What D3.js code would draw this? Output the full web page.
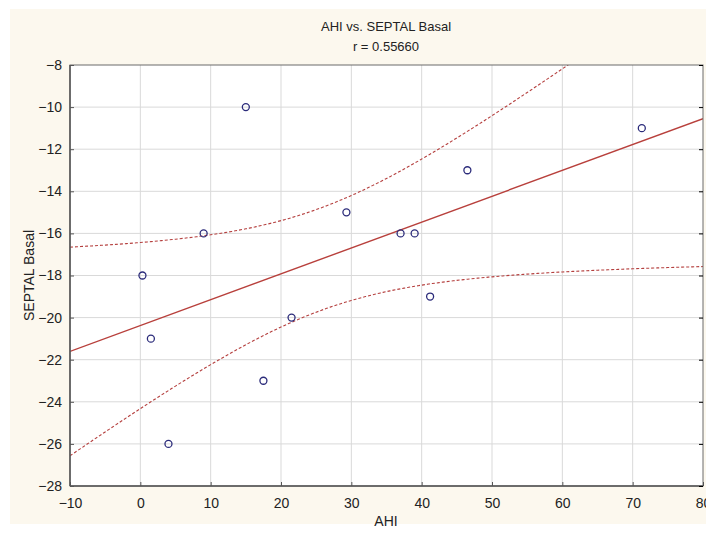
<!DOCTYPE html>
<html><head><meta charset="utf-8">
<script src="https://cdn.jsdelivr.net/npm/d3@7"></script>
<style>body{margin:0;background:#fff;}svg{display:block;font-family:"Liberation Sans",Arial,sans-serif;}</style>
</head><body>
<script>
const ahi = [0.3, 1.5, 4, 9, 15, 17.5, 21.5, 29.3, 37, 39, 41.2, 46.5, 71.3];
const septal = [-18, -21, -26, -16, -10, -23, -20, -15, -16, -16, -19, -13, -11];
const xTicks = [-10, 0, 10, 20, 30, 40, 50, 60, 70, 80];
const yTicks = [-8, -10, -12, -14, -16, -18, -20, -22, -24, -26, -28];
const title = "AHI vs. SEPTAL Basal";
const subtitle = "r = 0.55660";
const xLabel = "AHI", yLabel = "SEPTAL Basal";
const tCrit = 2.201; // t(0.975, df=11)

const W = 706, H = 534;
const L = 70, R = 703, T = 65, B = 486;
const svg = d3.select("body").append("svg").attr("width", W).attr("height", H);
svg.append("rect").attr("x", 10).attr("y", 9).attr("width", W - 10).attr("height", 515).attr("fill", "#fcf8ee");

const x = d3.scaleLinear().domain([-10, 80]).range([L, R]);
const y = d3.scaleLinear().domain([-28, -8]).range([B, T]);

svg.append("rect").attr("x", L).attr("y", T).attr("width", R - L).attr("height", B - T).attr("fill", "#fff");

// grid
const g = svg.append("g");
g.selectAll(".vg").data(xTicks.slice(1, -1)).join("line")
  .attr("x1", d => x(d)).attr("x2", d => x(d)).attr("y1", T).attr("y2", B)
  .attr("stroke", "#d9d9d9").attr("stroke-width", 1);
g.selectAll(".hg").data(yTicks.slice(1, -1)).join("line")
  .attr("y1", d => y(d)).attr("y2", d => y(d)).attr("x1", L).attr("x2", R)
  .attr("stroke", "#d9d9d9").attr("stroke-width", 1);

// regression with 95% confidence band
const n = ahi.length;
const mx = d3.mean(ahi), my = d3.mean(septal);
let sxx = 0, sxy = 0, syy = 0;
for (let i = 0; i < n; i++) { const dx = ahi[i] - mx, dy = septal[i] - my; sxx += dx*dx; sxy += dx*dy; syy += dy*dy; }
const slope = sxy / sxx, icpt = my - slope * mx;
const s = Math.sqrt((syy - slope * sxy) / (n - 2));
const xs = d3.range(-10, 80.01, 0.5);
const fit = v => icpt + slope * v;
const hw = v => tCrit * s * Math.sqrt(1 / n + (v - mx) * (v - mx) / sxx);

svg.append("clipPath").attr("id", "pc").append("rect").attr("x", L).attr("y", T).attr("width", R - L).attr("height", B - T);
const plot = svg.append("g").attr("clip-path", "url(#pc)");
const line = d3.line().x(d => x(d[0])).y(d => y(d[1]));
plot.append("path").attr("d", line(xs.map(v => [v, fit(v) + hw(v)]))).attr("fill", "none")
  .attr("stroke", "#b5403f").attr("stroke-width", 1.1).attr("stroke-dasharray", "3,2");
plot.append("path").attr("d", line(xs.map(v => [v, fit(v) - hw(v)]))).attr("fill", "none")
  .attr("stroke", "#b5403f").attr("stroke-width", 1.1).attr("stroke-dasharray", "3,2");
plot.append("path").attr("d", line([[-10, fit(-10)], [80, fit(80)]])).attr("fill", "none")
  .attr("stroke", "#b8403c").attr("stroke-width", 1.4);

// points
plot.selectAll("circle").data(ahi.map((v, i) => [v, septal[i]])).join("circle")
  .attr("cx", d => x(d[0])).attr("cy", d => y(d[1])).attr("r", 3.5)
  .attr("fill", "none").attr("stroke", "#2b2b7a").attr("stroke-width", 1.3);

// frame
svg.append("rect").attr("x", L).attr("y", T).attr("width", R - L).attr("height", B - T)
  .attr("fill", "none").attr("stroke", "#6a6a6a").attr("stroke-width", 1);
svg.append("line").attr("x1", L).attr("x2", L).attr("y1", T).attr("y2", B).attr("stroke", "#555").attr("stroke-width", 1.5);
svg.append("line").attr("x1", L).attr("x2", R).attr("y1", B).attr("y2", B).attr("stroke", "#555").attr("stroke-width", 1.5);

// axes
const xa = svg.append("g").attr("transform", `translate(0,${B})`)
  .call(d3.axisBottom(x).tickValues(xTicks).tickSize(-4).tickPadding(12).tickFormat(d3.format("d")));
const ya = svg.append("g").attr("transform", `translate(${L},0)`)
  .call(d3.axisLeft(y).tickValues(yTicks).tickSize(-4).tickPadding(8).tickFormat(d => d3.format("d")(d).replace("-", "\u2212")));
svg.append("g").attr("transform", `translate(${R},0)`)
  .call(d3.axisRight(y).tickValues(yTicks).tickSize(-4).tickFormat(""));
xa.selectAll("text").text(d => String(d).replace("-", "\u2212"));
[xa, ya].forEach(a => {
  a.selectAll("line").attr("stroke", "#555");
  a.selectAll("text").attr("fill", "#222").style("font-size", "14px").style("font-family", "Liberation Sans, Arial, sans-serif");
});
svg.selectAll(".domain").remove();

// titles
svg.append("text").attr("x", 386).attr("y", 31).attr("text-anchor", "middle").attr("font-size", 13).attr("fill", "#222").text(title);
svg.append("text").attr("x", 386).attr("y", 51).attr("text-anchor", "middle").attr("font-size", 13).attr("fill", "#222").text(subtitle);
svg.append("text").attr("x", 386).attr("y", 526).attr("text-anchor", "middle").attr("font-size", 14).attr("fill", "#222").text(xLabel);
svg.append("text").attr("transform", `translate(34,${(T + B) / 2}) rotate(-90)`).attr("text-anchor", "middle").attr("font-size", 14).attr("fill", "#222").text(yLabel);
</script>
</body></html>
